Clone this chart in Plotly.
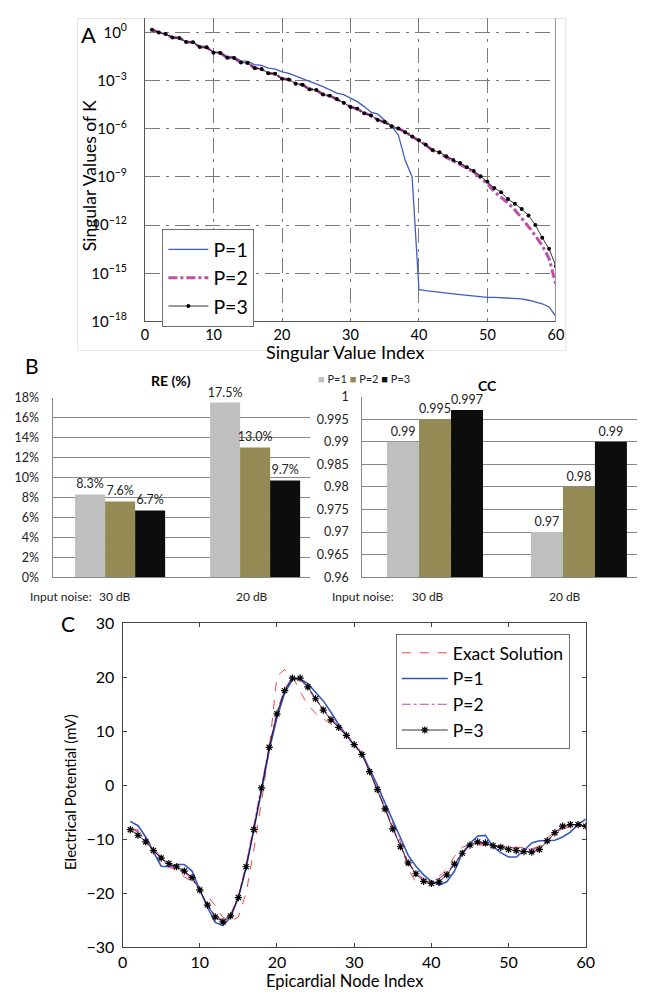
import plotly.graph_objects as go

# Page body keeps an 8px margin, so the figure is 16px smaller than the window
OFF = 8
W, H = 659 - 2 * OFF, 1001 - 2 * OFF
def fx(px): return (px - OFF) / W
def fy(py): return 1 - (py - OFF) / H

FONT = "Lato"

# ---------------- Panel A data (log10 of singular values) ----------------
sv_index = list(range(1, 61))
sv_p1_log10 = [0.165, 0.002, -0.10, -0.32, -0.34, -0.59, -0.61, -0.90, -0.92, -1.22,
               -1.24, -1.50, -1.52, -1.77, -1.80, -2.00, -2.05, -2.22, -2.28, -2.45,
               -2.55, -2.72, -2.85, -3.02, -3.18, -3.38, -3.58, -3.78, -3.87, -4.07,
               -4.31, -4.62, -4.97, -5.09, -5.44, -5.84, -6.40, -7.98, -9.00, -16.02,
               -16.08, -16.12, -16.18, -16.24, -16.28, -16.33, -16.38, -16.42, -16.46, -16.50,
               -16.50, -16.52, -16.55, -16.57, -16.60, -16.68, -16.78, -16.90, -17.10, -17.70]
sv_p2_log10 = [0.165, 0.002, -0.10, -0.32, -0.34, -0.59, -0.61, -0.91, -0.93, -1.26,
               -1.28, -1.57, -1.59, -1.87, -1.91, -2.22, -2.28, -2.54, -2.58, -2.89,
               -2.93, -3.19, -3.26, -3.54, -3.58, -3.87, -3.95, -4.15, -4.38, -4.64,
               -4.76, -5.03, -5.17, -5.46, -5.58, -5.84, -5.98, -6.21, -6.49, -6.72,
               -7.00, -7.36, -7.52, -7.78, -7.99, -8.20, -8.45, -8.70, -9.05, -9.42,
               -9.91, -10.25, -10.63, -11.05, -11.55, -12.10, -12.66, -13.27, -14.09, -15.72]
sv_p3_log10 = [0.165, 0.002, -0.10, -0.32, -0.34, -0.59, -0.61, -0.91, -0.93, -1.26,
               -1.28, -1.57, -1.59, -1.87, -1.91, -2.22, -2.28, -2.54, -2.58, -2.89,
               -2.93, -3.19, -3.26, -3.54, -3.58, -3.87, -3.95, -4.15, -4.38, -4.64,
               -4.76, -5.03, -5.17, -5.46, -5.58, -5.84, -5.98, -6.21, -6.49, -6.72,
               -7.00, -7.33, -7.47, -7.72, -7.94, -8.14, -8.39, -8.63, -8.96, -9.30,
               -9.69, -9.96, -10.38, -10.67, -11.00, -11.40, -11.99, -12.79, -13.48, -14.56]
a_ytick_exp = [0, -3, -6, -9, -12, -15, -18]
a_xticks = [0, 10, 20, 30, 40, 50, 60]

# ---------------- Panel B data ----------------
noise_levels = ["30 dB", "20 dB"]
series_names = ["P=1", "P=2", "P=3"]
bar_colors = ["#BFBFBF", "#948A54", "#0D0D0D"]
re_p1 = [8.3, 17.5]
re_p2 = [7.6, 13.0]
re_p3 = [6.7, 9.7]
cc_p1 = [0.99, 0.97]
cc_p2 = [0.995, 0.98]
cc_p3 = [0.997, 0.99]
cc_labels_p1 = ["0.99", "0.97"]
cc_labels_p2 = ["0.995", "0.98"]
cc_labels_p3 = ["0.997", "0.99"]
re_ticks = [0, 2, 4, 6, 8, 10, 12, 14, 16, 18]
cc_ticks = [0.96, 0.965, 0.97, 0.975, 0.98, 0.985, 0.99, 0.995, 1.0]
cc_ticktext = ["0.96", "0.965", "0.97", "0.975", "0.98", "0.985", "0.99", "0.995", "1"]

# ---------------- Panel C data ----------------
node_index = list(range(1, 61))
exact = [-8.0, -8.3, -9.9, -11.5, -13.3, -15.1, -15.8, -17.0, -17.8, -19.0,
         -20.5, -22.3, -24.5, -25.2, -24.4, -20.0, -12.0, -3.0, 6.7, 20.2,
         21.4, 20.2, 17.3, 14.9, 13.3, 12.3, 11.3, 10.5, 9.2, 7.7,
         5.7, 3.0, 0.0, -3.5, -7.0, -10.5, -15.5, -18.0, -18.0, -17.6,
         -16.9, -15.5, -13.2, -11.5, -11.0, -11.0, -11.1, -11.2, -11.3, -11.3,
         -11.4, -11.6, -11.8, -11.3, -9.8, -8.6, -8.0, -7.7, -7.6, -7.6]
ep_p1 = [-6.7, -7.5, -9.6, -12.3, -15.0, -15.1, -14.7, -14.7, -15.9, -19.4,
         -22.6, -25.4, -26.0, -24.4, -20.8, -15.4, -8.4, -1.1, 6.5, 12.5,
         17.1, 19.5, 19.7, 18.8, 17.2, 15.6, 13.5, 11.2, 9.3, 7.4,
         5.9, 3.1, 0.0, -3.3, -6.6, -10.0, -13.0, -15.0, -16.6, -17.8,
         -18.5, -17.9, -15.9, -12.6, -10.8, -9.4, -9.3, -11.4, -12.5, -13.3,
         -13.3, -12.1, -10.7, -10.3, -10.3, -10.2, -9.6, -8.7, -7.3, -6.3]
ep_p2 = [-8.0, -8.6, -10.2, -11.9, -13.6, -14.9, -15.4, -16.1, -17.3, -19.5,
         -22.2, -24.2, -25.0, -24.0, -20.5, -14.8, -7.8, -0.2, 7.2, 13.5,
         17.8, 19.9, 19.6, 18.0, 15.9, 14.0, 12.3, 10.9, 9.4, 7.7,
         5.8, 2.6, -0.7, -4.2, -7.8, -11.2, -14.2, -16.2, -17.4, -17.7,
         -17.3, -16.2, -14.5, -12.6, -11.2, -10.8, -10.9, -11.2, -11.4, -11.5,
         -11.6, -11.7, -11.9, -11.6, -10.4, -9.0, -7.9, -7.5, -7.4, -7.5]
ep_p3 = [-8.24, -9.27, -10.48, -12.1, -13.5, -14.5, -15.1, -15.9, -17.1, -19.4,
         -22.2, -24.4, -25.3, -24.2, -20.8, -15.1, -8.2, -0.5, 7.0, 13.2,
         17.5, 19.8, 19.8, 18.2, 16.0, 13.9, 12.1, 10.7, 9.2, 7.5,
         5.7, 2.5, -0.8, -4.4, -8.1, -11.4, -14.4, -16.4, -17.8, -18.2,
         -17.9, -16.6, -14.6, -12.6, -11.1, -10.5, -10.7, -11.2, -11.5, -11.9,
         -12.1, -12.3, -12.4, -11.9, -10.3, -8.8, -7.6, -7.3, -7.3, -7.6]
c_ticks = [0, 10, 20, 30, 40, 50, 60]
c_yticks = [-30, -20, -10, 0, 10, 20, 30]

fig = go.Figure()

# ---------------- Panel A traces ----------------
fig.add_trace(go.Scatter(x=sv_index, y=[10 ** v for v in sv_p1_log10], mode="lines", name="P=1",
                         line=dict(color="#3F5FBF", width=1.3), xaxis="x", yaxis="y", legend="legend"))
fig.add_trace(go.Scatter(x=sv_index, y=[10 ** v for v in sv_p2_log10], mode="lines", name="P=2",
                         line=dict(color="#BD4FAA", width=3, dash="dashdot"),
                         xaxis="x", yaxis="y", legend="legend"))
fig.add_trace(go.Scatter(x=sv_index, y=[10 ** v for v in sv_p3_log10], mode="lines+markers", name="P=3",
                         line=dict(color="black", width=0.8), marker=dict(size=4, color="black"),
                         xaxis="x", yaxis="y", legend="legend"))

# ---------------- Panel B traces ----------------
re_series = [re_p1, re_p2, re_p3]
cc_series = [cc_p1, cc_p2, cc_p3]
cc_label_series = [cc_labels_p1, cc_labels_p2, cc_labels_p3]
for k in range(3):
    fig.add_trace(go.Bar(x=[0, 1], y=re_series[k], name=series_names[k], marker_color=bar_colors[k],
                         marker_line_width=0,
                         text=[f"{v:.1f}%" for v in re_series[k]], textposition="outside",
                         constraintext="none", cliponaxis=False,
                         textfont=dict(family=FONT, size=12.5, color="#222"),
                         xaxis="x2", yaxis="y2", showlegend=False))
for k in range(3):
    fig.add_trace(go.Bar(x=[0, 1], y=cc_series[k], name=series_names[k], marker_color=bar_colors[k],
                         marker_line_width=0,
                         text=cc_label_series[k], textposition="outside",
                         constraintext="none", cliponaxis=False,
                         textfont=dict(family=FONT, size=12.5, color="#222"),
                         xaxis="x3", yaxis="y3", showlegend=False))

# ---------------- Panel C traces ----------------
fig.add_trace(go.Scatter(x=node_index, y=exact, mode="lines", name="Exact Solution",
                         line=dict(color="#F04545", width=1, dash="dash"),
                         xaxis="x4", yaxis="y4", legend="legend2"))
fig.add_trace(go.Scatter(x=node_index, y=ep_p1, mode="lines", name="P=1",
                         line=dict(color="#3557BE", width=1.6),
                         xaxis="x4", yaxis="y4", legend="legend2"))
fig.add_trace(go.Scatter(x=node_index, y=ep_p2, mode="lines", name="P=2",
                         line=dict(color="#CC44AA", width=1.2, dash="dashdot"),
                         xaxis="x4", yaxis="y4", legend="legend2"))
fig.add_trace(go.Scatter(x=node_index, y=ep_p3, mode="lines+markers", name="P=3",
                         line=dict(color="black", width=0.8),
                         marker=dict(symbol="asterisk-open", size=6, line=dict(color="black", width=1.2)),
                         xaxis="x4", yaxis="y4", legend="legend2"))

grid_a = dict(showgrid=True, gridcolor="#7A7A7A", gridwidth=1, griddash="longdashdot")

# panel A top edge sits at the figure's top (py = 8): log10 there = (22.7 - 8) / 16.37
A_TOP_LOG = 0.898

fig.update_layout(
    width=W, height=H, margin=dict(l=0, r=0, t=0, b=0),
    paper_bgcolor="white", plot_bgcolor="white",
    font=dict(family=FONT, color="black"),
    barmode="group", bargap=0.333, bargroupgap=0,
    xaxis=dict(domain=[fx(143), fx(563)], anchor="y", range=[0, 60], tickvals=a_xticks,
               showline=True, linecolor="#555", linewidth=1.2, zeroline=False, ticks="", ticklen=0,
               tickfont=dict(size=14.5), ticklabelstandoff=0, **grid_a),
    yaxis=dict(domain=[fy(317.4), 1.0], anchor="x", type="log", range=[-18, A_TOP_LOG],
               tickvals=[10.0 ** e for e in a_ytick_exp],
               ticktext=[f"10<sup>{'−' if e < 0 else ''}{abs(e)}</sup>" for e in a_ytick_exp],
               showline=True, linecolor="#555", linewidth=1.2, zeroline=False, ticks="",
               tickfont=dict(size=15), ticklabelstandoff=14, **grid_a),
    xaxis2=dict(domain=[fx(48.5), fx(311.7)], anchor="y2", range=[-0.5, 1.4072],
                showticklabels=False, showgrid=False, zeroline=False,
                showline=True, linecolor="#878787", ticks=""),
    yaxis2=dict(domain=[fy(578.3), fy(395)], anchor="x2", range=[0, 18], tickvals=re_ticks,
                ticktext=[f"{t}%" for t in re_ticks],
                showgrid=True, gridcolor="#878787", gridwidth=1,
                showline=True, linecolor="#878787", zeroline=False, ticks="",
                tickfont=dict(size=12.5, color="#222"), ticklabelstandoff=10),
    xaxis3=dict(domain=[fx(365), fx(645.5)], anchor="y3", range=[-0.506, 1.401],
                showticklabels=False, showgrid=False, zeroline=False,
                showline=True, linecolor="#878787", ticks=""),
    yaxis3=dict(domain=[fy(578.3), fy(394)], anchor="x3", range=[0.96, 1.0],
                tickvals=cc_ticks, ticktext=cc_ticktext,
                showgrid=True, gridcolor="#878787", gridwidth=1,
                showline=True, linecolor="#878787", zeroline=False, ticks="",
                tickfont=dict(size=12.5, color="#222"), ticklabelstandoff=10),
    xaxis4=dict(domain=[fx(120), fx(593.5)], anchor="y4", range=[0, 60], tickvals=c_ticks,
                showline=True, linecolor="#444", mirror="ticks", ticks="inside", ticklen=4,
                tickcolor="#444", showgrid=False, zeroline=False,
                tickfont=dict(size=16), ticklabelstandoff=1),
    yaxis4=dict(domain=[fy(955.5), fy(625)], anchor="x4", range=[-30, 30], tickvals=c_yticks,
                showline=True, linecolor="#444", mirror="ticks", ticks="inside", ticklen=4,
                tickcolor="#444", showgrid=False, zeroline=False,
                tickfont=dict(size=16), ticklabelstandoff=4),
    legend=dict(x=fx(160.7), y=fy(223.3), xanchor="left", yanchor="top",
                bgcolor="white", bordercolor="#6F6F6F", borderwidth=1,
                font=dict(size=19.5), tracegroupgap=0, itemwidth=40),
    legend2=dict(x=fx(399.3), y=fy(636), xanchor="left", yanchor="top",
                 bgcolor="white", bordercolor="#6F6F6F", borderwidth=1,
                 font=dict(size=17.5), tracegroupgap=0, itemwidth=46),
)

# decorative frame / lines
fig.add_shape(type="rect", xref="paper", yref="paper", x0=fx(74), x1=fx(573), y0=fy(347), y1=fy(8.5),
              line=dict(color="#E2E2E2", width=1), layer="below")
fig.add_shape(type="line", xref="x", yref="y domain", x0=60, x1=60, y0=0, y1=1,
              line=dict(color="#9A9A9A", width=2))

ann = []
def add_text(text, px, py, size, angle=0, xanchor="center", bold=False, color="black"):
    if bold:
        text = f"<b>{text}</b>"
    ann.append(dict(text=text, x=fx(px), y=fy(py), xref="paper", yref="paper", showarrow=False,
                    font=dict(size=size, color=color, family=FONT), textangle=angle,
                    xanchor=xanchor, yanchor="middle"))

add_text("A", 85.5, 24.5, 22)
add_text("Singular Values of K", 87, 169, 17.5, angle=-90)
add_text("Singular Value Index", 347.5, 348.5, 18)
add_text("B", 27.5, 362.5, 21)
add_text("RE (%)", 169.5, 377.5, 14, bold=True)
add_text("CC", 493.5, 382.5, 14, bold=True)
legend_b = " ".join(f'<span style="color:{c}">■</span> {n}' for c, n in zip(bar_colors, series_names))
add_text(legend_b, 318, 376, 11, xanchor="left", color="#222")
add_text("Input noise:", 23, 598, 12, xanchor="left", color="#222")
add_text(noise_levels[0], 112.5, 598, 12, color="#222")
add_text(noise_levels[1], 252.5, 598, 12, color="#222")
add_text("Input noise:", 332, 598, 12, xanchor="left", color="#222")
add_text(noise_levels[0], 432.5, 598, 12, color="#222")
add_text(noise_levels[1], 572.5, 598, 12, color="#222")
add_text("C", 64, 625.5, 21)
add_text("Electrical Potential (mV)", 67, 797.5, 15, angle=-90)
add_text("Epicardial Node Index", 347.5, 989.5, 16.5)
fig.update_layout(annotations=ann)

fig.write_html("out.html", config={"displayModeBar": False})
